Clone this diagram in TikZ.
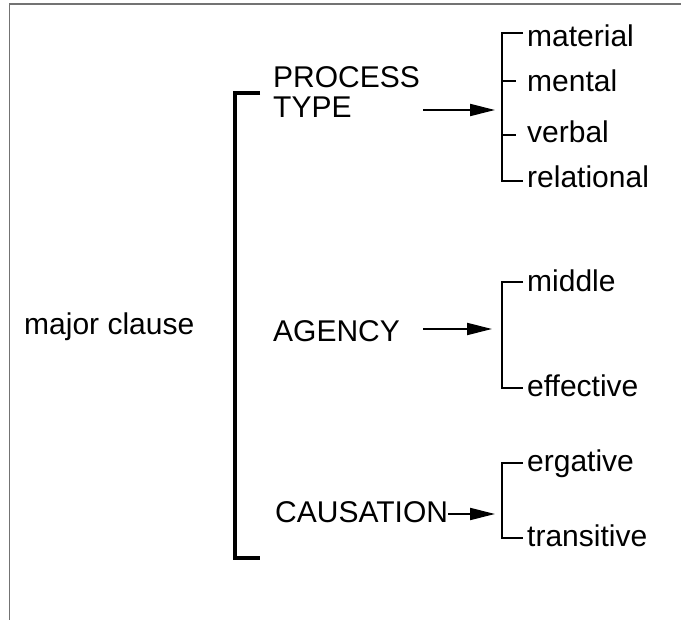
\documentclass[tikz,border=0pt]{standalone}
\usepackage{fontspec}
\setmainfont{Liberation Sans}
\usetikzlibrary{arrows.meta}

\begin{document}
\begin{tikzpicture}[x=1pt,y=-1pt]
	
	% --- parámetros ---
	\newcommand{\Xbr}{502}   % corchetes de opciones
	\newcommand{\Xlab}{527}  % inicio de las etiquetas
	
	% --- listas (tick / base / texto / nombre) ---
	\def\lProc{33/47/material/lmat, 81/92/mental/lmen, 135/143/verbal/lver,
		181/188/relational/lrel}
	\def\lAgen{282/292/middle/lmid, 388/397/effective/leff}
	\def\lCaus{463/472/ergative/lerg, 538/547/transitive/ltra}
	
	% estilos
	\tikzset{
		frame/.style = {black!55, line width=1.5pt},
		bigbr/.style = {line width=4pt},
		br/.style    = {line width=2pt},
		arr/.style   = {line width=2pt, -{Triangle[length=25pt,width=12pt]}},
		txt/.style   = {font=\fontsize{30}{30}\selectfont, inner sep=0pt,
			anchor=base west, align=left},
	}
	
	% macro para dibujar un sistema de opciones
	\newcommand{\DrawChoice}[3]{% #1=y arriba, #2=y abajo, #3=lista
		\draw[br] (\Xbr+21,#1) -- (\Xbr,#1) -- (\Xbr,#2) -- (\Xbr+21,#2);
		\foreach \ty/\by/\txt/\nm in #3 {%
			\node[txt] (\nm) at (\Xlab,\by) {\txt};
			\draw[br] (\Xbr-1,\ty) -- (\Xbr+14,\ty);
		}%
	}
	
	\useasboundingbox (0,0) rectangle (681,620);
	
	% marco
	\draw[frame] (9.5,620) -- (9.5,4) -- (681,4);
	
	% entrada y corchete grande
	\node[txt] (major) at (24,335) {major clause};
	\draw[bigbr] (260,93) -- (235,93) -- (235,558) -- (260,558);
	
	% sistemas (base = última línea)
	\node[txt] (proc) at (273,118) {PROCESS\\TYPE};
	\node[txt] (agen) at (273,342) {AGENCY};
	\node[txt] (caus) at (275,523) {CAUSATION};
	
	\coordinate (t1) at (495,110);
	\coordinate (t2) at (492,329);
	\coordinate (t3) at (495,514);
	
	\draw[arr] ([xshift=3pt]proc.east |- t1) -- (t1);
	\draw[arr] ([xshift=23pt]agen.east |- t2) -- (t2);
	\draw[arr] (caus.east |- t3) -- (t3);
	
	% opciones
	\DrawChoice{33}{181}{\lProc}
	\DrawChoice{282}{388}{\lAgen}
	\DrawChoice{463}{538}{\lCaus}
	
\end{tikzpicture}
\end{document}
